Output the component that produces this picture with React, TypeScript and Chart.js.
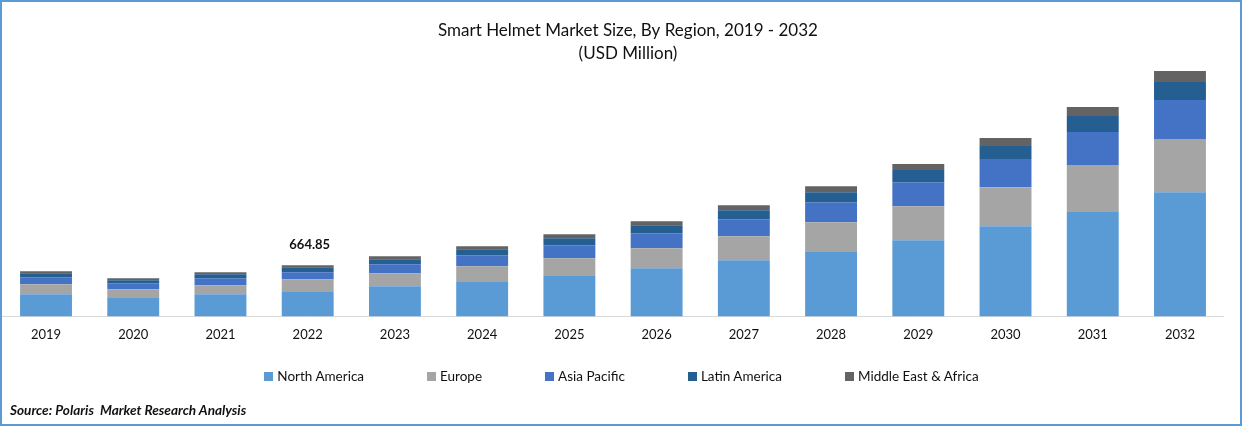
import { useEffect, useRef } from 'react';
import Chart from 'chart.js/auto';
import type { Plugin } from 'chart.js';

const FONT = 'Lato, "Open Sans", sans-serif';

const years = ['2019', '2020', '2021', '2022', '2023', '2024', '2025', '2026', '2027', '2028', '2029', '2030', '2031', '2032'];
const northAmerica = [286, 247, 286, 326, 390, 455, 533, 624, 728, 845, 988, 1170, 1365, 1612];
const europe = [130, 104, 117, 156, 169, 195, 221, 260, 312, 377, 442, 507, 598, 689];
const asiaPacific = [91, 78, 91, 91, 117, 143, 169, 195, 221, 260, 312, 364, 429, 507];
const latinAmerica = [52, 39, 52, 65, 65, 78, 91, 104, 117, 130, 156, 169, 208, 234];
const middleEastAfrica = [26, 26, 26, 26.85, 39, 39, 52, 52, 65, 78, 78, 104, 117, 143];

const seriesNames = ['North America', 'Europe', 'Asia Pacific', 'Latin America', 'Middle East & Africa'];
const seriesColors = ['#5B9BD5', '#A5A5A5', '#4472C4', '#255E91', '#636363'];
const seriesValues = [northAmerica, europe, asiaPacific, latinAmerica, middleEastAfrica];

const labelledYear = '2022';
const labelledValue = '664.85';

// title sits right of the plot centre in the reference
const nudgeTitle: Plugin<'bar'> = {
  id: 'nudgeTitle',
  afterLayout(chart) {
    const title = (chart as any).titleBlock;
    if (!title) return;
    title.left += 15;
    title.right += 15;
  },
};

const totalLabel: Plugin<'bar'> = {
  id: 'totalLabel',
  afterDatasetsDraw(chart) {
    const index = years.indexOf(labelledYear);
    const meta = chart.getDatasetMeta(seriesNames.length - 1);
    const bar = meta.data[index];
    const { ctx } = chart;
    ctx.save();
    ctx.font = `bold 13px ${FONT}`;
    ctx.fillStyle = '#111111';
    ctx.textAlign = 'center';
    ctx.textBaseline = 'middle';
    ctx.fillText(labelledValue, bar.x + 2, bar.y - 20);
    ctx.restore();
  },
};

export default function App() {
  const canvasRef = useRef<HTMLCanvasElement | null>(null);

  useEffect(() => {
    const canvas = canvasRef.current;
    if (!canvas) return;

    const chart = new Chart(canvas, {
      type: 'bar',
      data: {
        labels: years,
        datasets: seriesNames.map((name, i) => ({
          label: name,
          data: seriesValues[i],
          backgroundColor: seriesColors[i],
          borderWidth: 0,
          categoryPercentage: 1,
          barPercentage: 0.595,
        })),
      },
      options: {
        responsive: false,
        animation: false,
        layout: { padding: { left: 2.4, right: 18.4, top: 0, bottom: 72 } },
        plugins: {
          legend: { display: false },
          tooltip: { enabled: false },
          title: {
            display: true,
            text: ['Smart Helmet Market Size, By Region, 2019 - 2032', '(USD Million)'],
            color: '#111111',
            font: { family: FONT, size: 17, weight: 'normal', lineHeight: 1.35 },
            padding: { top: 19, bottom: 5 },
          },
        },
        scales: {
          x: {
            stacked: true,
            grid: { display: false, drawTicks: false },
            border: { color: '#D9D9D9', width: 1 },
            ticks: { color: '#111111', padding: 11, font: { family: FONT, size: 13 } },
          },
          y: { stacked: true, display: false, min: 0, max: 3198 },
        },
      },
      plugins: [nudgeTitle, totalLabel],
    });

    return () => chart.destroy();
  }, []);

  return (
    <div style={{ position: 'fixed', left: 0, top: 0, width: 1242, height: 426, background: '#fff', overflow: 'hidden', fontFamily: FONT, color: '#111' }}>
      <canvas ref={canvasRef} width={1242} height={426} style={{ position: 'absolute', left: 0, top: 0 }} />
      <div style={{ position: 'absolute', left: 1, right: 0, top: 367, height: 18, display: 'flex', justifyContent: 'center', alignItems: 'center', gap: 63, fontSize: 13.5 }}>
        {seriesNames.map((name, i) => (
          <span key={name} style={{ display: 'flex', alignItems: 'center', gap: 4 }}>
            <span style={{ width: 9, height: 9, background: seriesColors[i] }} />
            {name}
          </span>
        ))}
      </div>
      <div style={{ position: 'absolute', left: 10, top: 402, fontSize: 13.6, fontWeight: 700, fontStyle: 'italic', whiteSpace: 'pre' }}>
        {'Source: Polaris  Market Research Analysis'}
      </div>
      <div style={{ position: 'absolute', inset: 0, border: '2px solid #5B9BD5', boxSizing: 'border-box', pointerEvents: 'none' }} />
    </div>
  );
}
